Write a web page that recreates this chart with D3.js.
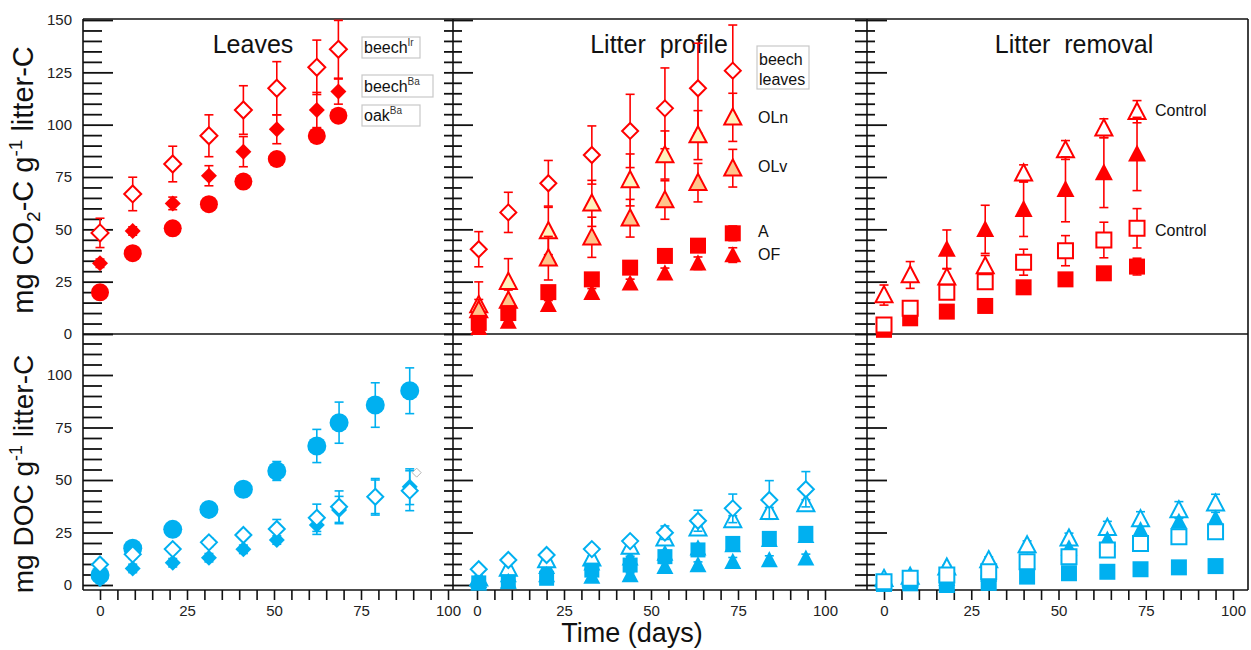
<!DOCTYPE html>
<html>
<head>
<meta charset="utf-8">
<script src="https://cdn.jsdelivr.net/npm/d3@7/dist/d3.min.js"></script>
<style>
  body { margin: 0; background: #fff; }
  svg { display: block; font-family: "Liberation Sans", Arial, sans-serif; }
</style>
</head>
<body>
<svg width="1251" height="650"></svg>
<script>
// ---- data ----
// Leaves panel
var leavesDaysCO2 = [0, 9.4, 20.9, 31.3, 41.2, 50.8, 62.3, 68.5];
var beechIrCO2 = [48.3, 66.9, 81.2, 94.7, 107, 117.4, 127.4, 136];
var beechIrCO2Err = [7, 8, 8.5, 10, 11.6, 12.7, 13, 13.8];
var beechBaCO2 = [33.8, 49.2, 62.4, 75.6, 87.1, 97.8, 107, 115.8];
var beechBaCO2Err = [2, 2, 3, 4.8, 7.2, 6.9, 8.4, 6];
var oakBaCO2 = [19.9, 38.6, 50.5, 62, 72.8, 83.6, 94.6, 104.3];
var oakBaCO2Err = [0, 0, 0, 0, 0, 0, 0, 0];

var leavesDaysDOC = [0, 9.4, 20.9, 31.3, 41.2, 50.8, 62.3, 68.7, 79.1, 89];
var oakBaDOC = [4.8, 17.5, 26.5, 36, 45.6, 54.3, 66.2, 77.3, 85.7, 92.5];
var oakBaDOCErr = [2, 2, 2, 2, 3.5, 4.5, 7.9, 9.8, 10.6, 10.9];
var beechIrDOC = [9.8, 14.6, 17.1, 20.3, 23.8, 26.7, 32, 37.3, 42, 44.9];
var beechIrDOCErr = [2, 2, 2, 2, 2, 4.5, 6.5, 7.5, 8.7, 9.5];
var beechBaDOC = [2.7, 7.9, 10.6, 13, 17, 21.4, 28.6, 35.7, 42, 46.8];
var beechBaDOCErr = [2, 2, 2, 2, 2, 2, 4.5, 6.5, 8, 8.5];
var strayDays = [91];
var strayDOC = [53.5];

// Litter profile panel
var profileDaysCO2 = [0.5, 9, 20.5, 33, 44, 54, 63.5, 73.5];
var leavesProfCO2 = [40.5, 58.1, 72, 85.5, 97, 107.8, 117.4, 125.8];
var leavesProfCO2Err = [8.4, 9.6, 10.9, 13.9, 17.5, 19.3, 21.5, 21.8];
var olnCO2 = [13.9, 25, 49.2, 62.4, 73.6, 85.5, 95, 103.5];
var olnCO2Err = [11, 11, 11.3, 11, 12.4, 11.5, 11.7, 11.5];
var olvCO2 = [11.5, 16, 36.2, 46.2, 55.3, 64, 72.3, 79.2];
var olvCO2Err = [5, 5, 10.4, 9.6, 9, 9.2, 9.2, 9];
var aCO2 = [5.3, 10, 20, 26.1, 31.7, 37.3, 42.2, 48.1];
var aCO2Err = [2, 2, 2, 2, 2, 2.5, 3, 3.5];
var ofCO2 = [3, 6, 14, 19.7, 24.2, 29, 33.8, 37.7];
var ofCO2Err = [2, 2, 2, 2, 2, 2.5, 3, 3.5];

var profileDaysDOC = [0.5, 9, 20, 33, 44, 54, 63.5, 73.5, 84, 94.5];
var leavesProfDOC = [7.5, 11.9, 14.3, 17.1, 20.9, 24.9, 30.6, 36.5, 40.5, 45.6];
var leavesProfDOCErr = [1, 1, 1, 1, 1.5, 3.2, 5, 6.8, 9.2, 8.4];
var olnDOC = [3.2, 7.9, 11.9, 12.7, 18.3, 22.2, 27, 31, 34.9, 38.6];
var olvDOC = [2, 4.8, 8.7, 10.3, 12.7, 15, 17.5, 19, 21.5, 23.5];
var aDOC = [1, 1.6, 3.2, 7.1, 9.5, 13.5, 16.7, 19.8, 22.2, 24.6];
var ofDOC = [0.8, 1.6, 4.8, 4, 4.8, 8.7, 9.5, 11.1, 11.9, 12.7];
var smallDOCErr = [0.5, 0.5, 0.5, 1, 1, 1.5, 1.5, 2, 2, 2];

// Litter removal panel
var removalDaysCO2 = [0, 7.5, 18, 29, 40, 52, 63, 72.5];
var ctrlTriCO2 = [18.6, 28.2, 27.1, 32.5, 76.8, 87.9, 98.3, 106.2];
var ctrlTriCO2Err = [4.8, 6.4, 4, 5, 4, 4.5, 4.5, 5.3];
var remTriDaysCO2 = [18, 29, 40, 52, 63, 72.5];
var remTriCO2 = [40.5, 50, 59.6, 69.1, 77.1, 86];
var remTriCO2Err = [9.2, 11.5, 13, 15.5, 16.7, 17.5];
var ctrlSqCO2 = [4.3, 12.3, 19.9, 25, 34.3, 39.8, 44.9, 50.5];
var ctrlSqCO2Err = [2, 2, 2, 2, 6.2, 7.2, 8.5, 9.4];
var remSqCO2 = [2, 7.5, 10.7, 13.4, 22.3, 26.1, 29, 32.2];
var remSqCO2Err = [1, 1, 1, 1, 2, 3, 3, 4];

var removalDaysDOC = [0, 7.5, 18, 30, 41, 53, 64, 73.5, 84.5, 95];
var ctrlTriDOC = [3, 4, 8.4, 11.9, 19, 22.2, 27.3, 31.4, 35.7, 38.9];
var ctrlTriDOCErr = [1, 1, 1, 1.5, 2, 2.5, 3, 3.5, 4, 4.3];
var remTriDOC = [1, 2, 3, 5, 11, 17.5, 21.7, 26.2, 30.2, 31.7];
var ctrlSqDOC = [1.6, 3.2, 4.8, 6.3, 11.1, 13.5, 16.7, 19.8, 23, 25.4];
var remSqDOC = [0.5, 0.8, 0, 1, 4, 5.6, 6.3, 7.5, 8.4, 9];

var yTicksCO2 = [0, 25, 50, 75, 100, 125, 150];
var yTicksDOC = [0, 25, 50, 75, 100];
var xTickLabels = [0, 25, 50, 75, 100];

var RED = "#ff0000", BLUE = "#00b0f0", OLN_FILL = "#fff3bd", OLV_FILL = "#ffc48c";

// ---- layout ----
var svg = d3.select("svg");
var frameTop = 19, frameMid = 334, frameBot = 590, frameRight = 1248;

var yTop = d3.scaleLinear().domain([0, 150]).range([334, 20]);
var yBot = d3.scaleLinear().domain([0, 100]).range([585, 375]);

var panels = [
    {axisX: 83, x: d3.scaleLinear().domain([0, 100]).range([100, 448]), out: 0, minorIn: 19, majorIn: 30, title: "Leaves", titleX: 253},
    {axisX: 453, x: d3.scaleLinear().domain([0, 100]).range([477, 825]), out: 9, minorIn: 9, majorIn: 20, title: "Litter  profile", titleX: 659},
    {axisX: 867, x: d3.scaleLinear().domain([0, 100]).range([884, 1233]), out: 12, minorIn: 8, majorIn: 20, title: "Litter  removal", titleX: 1074}
];

function shape(kind, s) {
    if (kind == "diamond") return "M0," + (-s) + "L" + s + ",0L0," + s + "L" + (-s) + ",0Z";
    if (kind == "square") return "M" + (-s) + "," + (-s) + "H" + s + "V" + s + "H" + (-s) + "Z";
    if (kind == "triangle") return "M0," + (-s * 1.05) + "L" + s + "," + (s * 0.85) + "L" + (-s) + "," + (s * 0.85) + "Z";
    return d3.arc()({innerRadius: 0, outerRadius: s, startAngle: 0, endAngle: 2 * Math.PI});
}

function drawSeries(g, xs, ys, d) {
    var pts = d.x.map(function(v, i) { return {x: v, y: d.y[i], e: d.e ? d.e[i] : 0}; });
    var bars = g.append("g").attr("stroke", d.color).attr("stroke-width", 1.6).attr("fill", "none");
    pts.filter(function(p) { return p.e > 0; }).forEach(function(p) {
        var cx = xs(p.x);
        bars.append("line").attr("x1", cx).attr("x2", cx).attr("y1", ys(p.y - p.e)).attr("y2", ys(p.y + p.e));
        bars.append("line").attr("x1", cx - 4.5).attr("x2", cx + 4.5).attr("y1", ys(p.y + p.e)).attr("y2", ys(p.y + p.e));
        bars.append("line").attr("x1", cx - 4.5).attr("x2", cx + 4.5).attr("y1", ys(p.y - p.e)).attr("y2", ys(p.y - p.e));
    });
    g.append("g").selectAll("path").data(pts).enter().append("path")
        .attr("transform", function(p) { return "translate(" + xs(p.x) + "," + ys(p.y) + ")"; })
        .attr("d", shape(d.shape, d.size))
        .attr("fill", d.fill)
        .attr("stroke", d.stroke || d.color)
        .attr("stroke-width", d.sw || 0);
}

// ---- series per panel ----
var topSeries = [
    [
        {x: leavesDaysCO2, y: beechIrCO2, e: beechIrCO2Err, shape: "diamond", size: 8.5, color: RED, fill: "#fff", sw: 2},
        {x: leavesDaysCO2, y: beechBaCO2, e: beechBaCO2Err, shape: "diamond", size: 8, color: RED, fill: RED},
        {x: leavesDaysCO2, y: oakBaCO2, e: oakBaCO2Err, shape: "circle", size: 9, color: RED, fill: RED}
    ],
    [
        {x: profileDaysCO2, y: leavesProfCO2, e: leavesProfCO2Err, shape: "diamond", size: 8, color: RED, fill: "#fff", sw: 2},
        {x: profileDaysCO2, y: olnCO2, e: olnCO2Err, shape: "triangle", size: 8.5, color: RED, fill: OLN_FILL, sw: 2},
        {x: profileDaysCO2, y: olvCO2, e: olvCO2Err, shape: "triangle", size: 8.5, color: RED, fill: OLV_FILL, sw: 2},
        {x: profileDaysCO2, y: aCO2, e: aCO2Err, shape: "square", size: 8, color: RED, fill: RED},
        {x: profileDaysCO2, y: ofCO2, e: ofCO2Err, shape: "triangle", size: 8.5, color: RED, fill: RED}
    ],
    [
        {x: removalDaysCO2, y: ctrlTriCO2, e: ctrlTriCO2Err, shape: "triangle", size: 8.5, color: RED, fill: "#fff", sw: 2},
        {x: remTriDaysCO2, y: remTriCO2, e: remTriCO2Err, shape: "triangle", size: 9, color: RED, fill: RED},
        {x: removalDaysCO2, y: remSqCO2, e: remSqCO2Err, shape: "square", size: 8, color: RED, fill: RED},
        {x: removalDaysCO2, y: ctrlSqCO2, e: ctrlSqCO2Err, shape: "square", size: 7.5, color: RED, fill: "#fff", sw: 2}
    ]
];

var botSeries = [
    [
        {x: leavesDaysDOC, y: oakBaDOC, e: oakBaDOCErr, shape: "circle", size: 9.5, color: BLUE, fill: BLUE},
        {x: leavesDaysDOC, y: beechBaDOC, e: beechBaDOCErr, shape: "diamond", size: 8, color: BLUE, fill: BLUE},
        {x: leavesDaysDOC, y: beechIrDOC, e: beechIrDOCErr, shape: "diamond", size: 8, color: BLUE, fill: "#fff", sw: 2},
        {x: strayDays, y: strayDOC, shape: "diamond", size: 4.5, color: "#b5b5b5", fill: "#fff", sw: 1}
    ],
    [
        {x: profileDaysDOC, y: olvDOC, e: smallDOCErr, shape: "triangle", size: 8.5, color: BLUE, fill: BLUE},
        {x: profileDaysDOC, y: olnDOC, e: smallDOCErr, shape: "triangle", size: 8.5, color: BLUE, fill: "#fff", sw: 2},
        {x: profileDaysDOC, y: leavesProfDOC, e: leavesProfDOCErr, shape: "diamond", size: 8, color: BLUE, fill: "#fff", sw: 2},
        {x: profileDaysDOC, y: aDOC, e: smallDOCErr, shape: "square", size: 7.5, color: BLUE, fill: BLUE},
        {x: profileDaysDOC, y: ofDOC, e: smallDOCErr, shape: "triangle", size: 8.5, color: BLUE, fill: BLUE}
    ],
    [
        {x: removalDaysDOC, y: ctrlTriDOC, e: ctrlTriDOCErr, shape: "triangle", size: 8.5, color: BLUE, fill: "#fff", sw: 2},
        {x: removalDaysDOC, y: remTriDOC, shape: "triangle", size: 8.5, color: BLUE, fill: BLUE},
        {x: removalDaysDOC, y: remSqDOC, shape: "square", size: 8, color: BLUE, fill: BLUE},
        {x: removalDaysDOC, y: ctrlSqDOC, shape: "square", size: 7.5, color: BLUE, fill: "#fff", sw: 2}
    ]
];

// ---- frame and axes ----
var frame = svg.append("g").attr("stroke", "#111").attr("stroke-width", 1.6);
[frameTop, frameMid, frameBot].forEach(function(yy) {
    frame.append("line").attr("x1", 83).attr("x2", frameRight).attr("y1", yy).attr("y2", yy);
});
frame.append("line").attr("x1", frameRight).attr("x2", frameRight).attr("y1", frameTop).attr("y2", frameBot);

function yTicks(ax, scale, maxV) {
    var g = svg.append("g").attr("transform", "translate(" + ax.axisX + ",0)");
    var minor = d3.range(0, maxV + 1, 5).filter(function(v) { return v % 25 != 0; });
    var major = d3.range(0, maxV + 1, 25);
    g.append("g").call(d3.axisRight(scale).tickValues(minor).tickSize(ax.minorIn).tickFormat(""));
    g.append("g").call(d3.axisRight(scale).tickValues(major).tickSize(ax.majorIn).tickFormat(""));
    g.selectAll("line").attr("x1", -ax.out).attr("stroke", "#111").attr("stroke-width", 1.8);
    g.selectAll(".domain").remove();
}

panels.forEach(function(p, i) {
    frame.append("line").attr("x1", p.axisX).attr("x2", p.axisX).attr("y1", frameTop).attr("y2", frameBot);
    yTicks(p, yTop, 150);
    yTicks(p, yBot, 115);

    var xa = svg.append("g").attr("transform", "translate(0," + frameBot + ")")
        .call(d3.axisBottom(p.x).tickValues(d3.range(0, 101, 5)).tickSize(10).tickPadding(5)
            .tickFormat(function(d) { return xTickLabels.indexOf(d) >= 0 ? d : ""; }));
    xa.select(".domain").remove();
    xa.selectAll("line").attr("stroke", "#111").attr("stroke-width", 1.6);
    xa.selectAll("text").attr("font-size", 15).attr("fill", "#222").attr("font-family", null);

    svg.append("text").attr("x", p.titleX).attr("y", 53).attr("text-anchor", "middle")
        .attr("font-size", 25).attr("fill", "#111").style("white-space", "pre").text(p.title);

    var gt = svg.append("g");
    topSeries[i].forEach(function(s) { drawSeries(gt, p.x, yTop, s); });
    var gb = svg.append("g");
    botSeries[i].forEach(function(s) { drawSeries(gb, p.x, yBot, s); });
});

// y tick labels on the left panel only
[[yTop, yTicksCO2], [yBot, yTicksDOC]].forEach(function(a) {
    var ga = svg.append("g").attr("transform", "translate(83,0)")
        .call(d3.axisLeft(a[0]).tickValues(a[1]).tickSize(0).tickPadding(11));
    ga.select(".domain").remove();
    ga.selectAll("text").attr("font-size", 15).attr("fill", "#222").attr("font-family", null);
});

// axis titles
var t1 = svg.append("text").attr("transform", "translate(33,180) rotate(-90)")
    .attr("text-anchor", "middle").attr("font-size", 29).attr("fill", "#111");
t1.append("tspan").text("mg CO");
t1.append("tspan").attr("font-size", 19).attr("dy", 7).text("2");
t1.append("tspan").attr("dy", -7).text("-C g");
t1.append("tspan").attr("font-size", 19).attr("dy", -11).text("-1");
t1.append("tspan").attr("dy", 11).text(" litter-C");

var t2 = svg.append("text").attr("transform", "translate(33,474) rotate(-90)")
    .attr("text-anchor", "middle").attr("font-size", 28).attr("fill", "#111");
t2.append("tspan").text("mg DOC g");
t2.append("tspan").attr("font-size", 18).attr("dy", -11).text("-1");
t2.append("tspan").attr("dy", 11).text(" litter-C");

svg.append("text").attr("x", 632).attr("y", 642).attr("text-anchor", "middle")
    .attr("font-size", 27).attr("fill", "#111").text("Time (days)");

// ---- in-plot labels ----
var boxes = [
    {x: 362, y: 37, w: 58, h: 21, name: "beech", sup: "Ir"},
    {x: 362, y: 75, w: 71, h: 22, name: "beech", sup: "Ba"},
    {x: 362, y: 105, w: 58, h: 21, name: "oak", sup: "Ba"}
];
boxes.forEach(function(b) {
    svg.append("rect").attr("x", b.x).attr("y", b.y).attr("width", b.w).attr("height", b.h)
        .attr("fill", "#fff").attr("stroke", "#c8c8c8").attr("stroke-width", 1.2);
    var t = svg.append("text").attr("x", b.x + 2).attr("y", b.y + b.h - 5).attr("font-size", 16).attr("fill", "#111");
    t.append("tspan").text(b.name);
    t.append("tspan").attr("font-size", 10).attr("dy", -7).attr("fill", "#333").text(b.sup);
});

svg.append("rect").attr("x", 757).attr("y", 46).attr("width", 52).attr("height", 43)
    .attr("fill", "#fff").attr("stroke", "#c8c8c8").attr("stroke-width", 1.2);
svg.append("text").attr("x", 759).attr("y", 65).attr("font-size", 16).attr("fill", "#111").text("beech");
svg.append("text").attr("x", 759).attr("y", 85).attr("font-size", 16).attr("fill", "#111").text("leaves");

var seriesLabels = [
    {x: 758, y: 123, t: "OLn"},
    {x: 758, y: 172, t: "OLv"},
    {x: 758, y: 237, t: "A"},
    {x: 758, y: 260, t: "OF"},
    {x: 1155, y: 116, t: "Control"},
    {x: 1155, y: 236, t: "Control"}
];
svg.selectAll(".slab").data(seriesLabels).enter().append("text")
    .attr("class", "slab")
    .attr("x", function(d) { return d.x; })
    .attr("y", function(d) { return d.y; })
    .attr("font-size", 16).attr("fill", "#111")
    .text(function(d) { return d.t; });
</script>
</body>
</html>
